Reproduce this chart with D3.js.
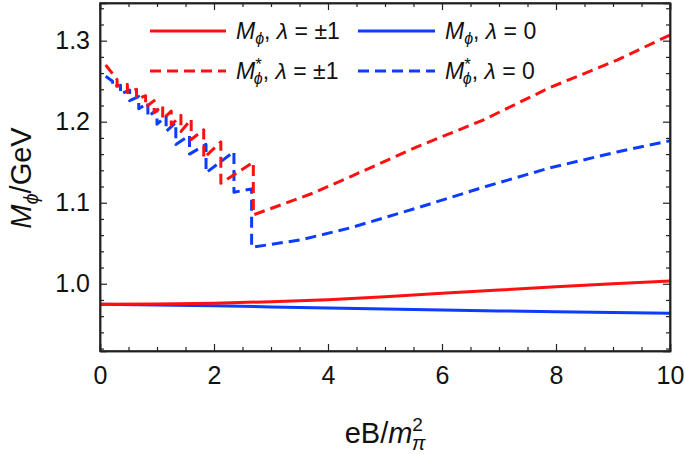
<!DOCTYPE html>
<html><head><meta charset="utf-8">
<script src="https://cdn.jsdelivr.net/npm/d3@7"></script>
<style>
html,body{margin:0;padding:0;background:#fff;}
text{font-family:"Liberation Sans",Arial,sans-serif;fill:#111;}
</style></head>
<body><svg id="c" width="685" height="454"></svg>
<script>
// ---- data ----
const solidX = [0,1,2,3,4,5,6,7,8,9,10];
const redSolid = [0.9746,0.9750,0.9760,0.9778,0.9802,0.9840,0.9882,0.9923,0.9962,1.0000,1.0033];
const blueSolid = [0.9746,0.9738,0.9728,0.9714,0.9700,0.9687,0.9675,0.9664,0.9655,0.9646,0.9636];

const redDashX = [0.10,0.30,0.30,0.48,0.48,0.64,0.64,0.80,0.80,0.95,0.95,1.10,1.10,1.25,1.25,1.42,1.42,1.60,1.60,1.82,1.82,2.12,2.12,2.69,2.69,3.20,3.74,4.39,5.56,6.72,7.89,9.07,10.0];
const redDashY = [1.270,1.252,1.244,1.246,1.236,1.240,1.228,1.232,1.218,1.226,1.211,1.220,1.203,1.213,1.196,1.208,1.188,1.203,1.178,1.190,1.155,1.175,1.124,1.150,1.085,1.098,1.112,1.132,1.169,1.202,1.242,1.276,1.307];

const blueDashX = [0.10,0.22,0.22,0.36,0.36,0.52,0.52,0.68,0.68,0.84,0.84,1.00,1.00,1.16,1.16,1.33,1.33,1.57,1.57,1.86,1.86,2.35,2.35,2.66,2.66,3.51,4.39,5.56,6.72,7.89,9.07,10.0];
const blueDashY = [1.256,1.250,1.243,1.245,1.234,1.239,1.226,1.231,1.216,1.223,1.206,1.215,1.197,1.207,1.188,1.199,1.172,1.183,1.160,1.172,1.137,1.163,1.113,1.117,1.045,1.054,1.069,1.0935,1.119,1.143,1.1626,1.1765];

const xTicks = [0,2,4,6,8,10];
const yTicks = [1.0,1.1,1.2,1.3];

const RED = "#ff1010", BLUE = "#0b3cff";

// ---- layout ----
const svg = d3.select("#c");
const L=100, R=670, T=3, B=351;
const x = d3.scaleLinear().domain([0,10]).range([L,R]);
const y = d3.scaleLinear().domain([0.917,1.3465]).range([B,T]);

svg.append("clipPath").attr("id","pc").append("rect")
  .attr("x",L).attr("y",T).attr("width",R-L).attr("height",B-T);

const line = d3.line().x(d=>x(d[0])).y(d=>y(d[1]));
const g = svg.append("g").attr("clip-path","url(#pc)");
function draw(xs, ys, color, dash){
  g.append("path").datum(xs.map((v,i)=>[v,ys[i]]))
    .attr("d",line).attr("fill","none").attr("stroke",color)
    .attr("stroke-width",3).attr("stroke-dasharray",dash?"11,6":null)
    .attr("stroke-linejoin","round");
}
draw(solidX, blueSolid, BLUE, false);
draw(solidX, redSolid, RED, false);
draw(blueDashX, blueDashY, BLUE, true);
draw(redDashX, redDashY, RED, true);

// ---- axes (inward ticks) ----
const xMinor = d3.range(0,10.001,0.5).filter(v=>!xTicks.includes(v));
const yMinor = d3.range(0.92,1.345,0.02).map(v=>+v.toFixed(2)).filter(v=>Math.abs(v*10-Math.round(v*10))>1e-6);
function ax(axisGen, tr){
  const a = svg.append("g").attr("transform",tr).call(axisGen);
  a.selectAll("path").attr("stroke","#222").attr("stroke-width",1.5);
  a.selectAll("line").attr("stroke","#222").attr("stroke-width",1.2);
  return a;
}
ax(d3.axisBottom(x).tickValues(xTicks).tickSize(-7).tickPadding(15).tickFormat(d3.format("d")),`translate(0,${B})`)
  .selectAll("text").attr("font-size",25).attr("fill","#111");
ax(d3.axisBottom(x).tickValues(xMinor).tickSize(-4).tickFormat("").tickSizeOuter(0),`translate(0,${B})`);
ax(d3.axisTop(x).tickValues(xTicks).tickSize(-7).tickFormat(""),`translate(0,${T})`);
ax(d3.axisTop(x).tickValues(xMinor).tickSize(-4).tickFormat("").tickSizeOuter(0),`translate(0,${T})`);
ax(d3.axisLeft(y).tickValues(yTicks).tickSize(-7).tickPadding(10).tickFormat(d3.format(".1f")),`translate(${L},0)`)
  .selectAll("text").attr("font-size",25).attr("fill","#111");
ax(d3.axisLeft(y).tickValues(yMinor).tickSize(-4).tickFormat("").tickSizeOuter(0),`translate(${L},0)`);
ax(d3.axisRight(y).tickValues(yTicks).tickSize(-7).tickFormat(""),`translate(${R},0)`);
ax(d3.axisRight(y).tickValues(yMinor).tickSize(-4).tickFormat("").tickSizeOuter(0),`translate(${R},0)`);

svg.append("rect").attr("x",L).attr("y",T).attr("width",R-L).attr("height",B-T)
  .attr("fill","none").attr("stroke","#222").attr("stroke-width",1.5);

// ---- axis titles ----
const xt = svg.append("text").attr("x",(L+R)/2).attr("y",443).attr("text-anchor","middle").attr("font-size",29);
xt.append("tspan").text("eB/");
xt.append("tspan").attr("font-style","italic").text("m");
xt.append("tspan").attr("font-size",19).attr("dy",-12).text("2");
xt.append("tspan").attr("font-size",20).attr("font-style","italic").attr("dx",-11).attr("dy",19).text("π");

const yt = svg.append("text").attr("transform","translate(31,178) rotate(-90)").attr("text-anchor","middle").attr("font-size",29);
yt.append("tspan").attr("font-style","italic").text("M");
yt.append("tspan").attr("font-style","italic").attr("font-size",20).attr("dy",7).text("ϕ");
yt.append("tspan").attr("dy",-7).text("/GeV");

// ---- legend ----
const legend = [
  {x0:150, x1:226, ty:31, color:RED,  dash:false, star:false, lam:"±1", tx:236},
  {x0:358, x1:435, ty:31, color:BLUE, dash:false, star:false, lam:"0",  tx:445},
  {x0:150, x1:226, ty:71, color:RED,  dash:true,  star:true,  lam:"±1", tx:236},
  {x0:358, x1:435, ty:71, color:BLUE, dash:true,  star:true,  lam:"0",  tx:445}
];
legend.forEach(l=>{
  svg.append("line").attr("x1",l.x0).attr("x2",l.x1).attr("y1",l.ty).attr("y2",l.ty)
    .attr("stroke",l.color).attr("stroke-width",3).attr("stroke-dasharray",l.dash?"11,6":null);
  const t = svg.append("text").attr("x",l.tx).attr("y",l.ty+8).attr("font-size",23);
  t.append("tspan").attr("font-style","italic").text("M");
  if(l.star){
    t.append("tspan").attr("font-size",17).attr("dy",-9).text("*");
    t.append("tspan").attr("font-style","italic").attr("font-size",16).attr("dx",-8).attr("dy",14).text("ϕ");
    t.append("tspan").attr("dy",-5).text(", ");
  } else {
    t.append("tspan").attr("font-style","italic").attr("font-size",16).attr("dy",5).text("ϕ");
    t.append("tspan").attr("dy",-5).text(", ");
  }
  t.append("tspan").attr("font-style","italic").text("λ");
  t.append("tspan").text(" = " + l.lam);
});
</script></body></html>
